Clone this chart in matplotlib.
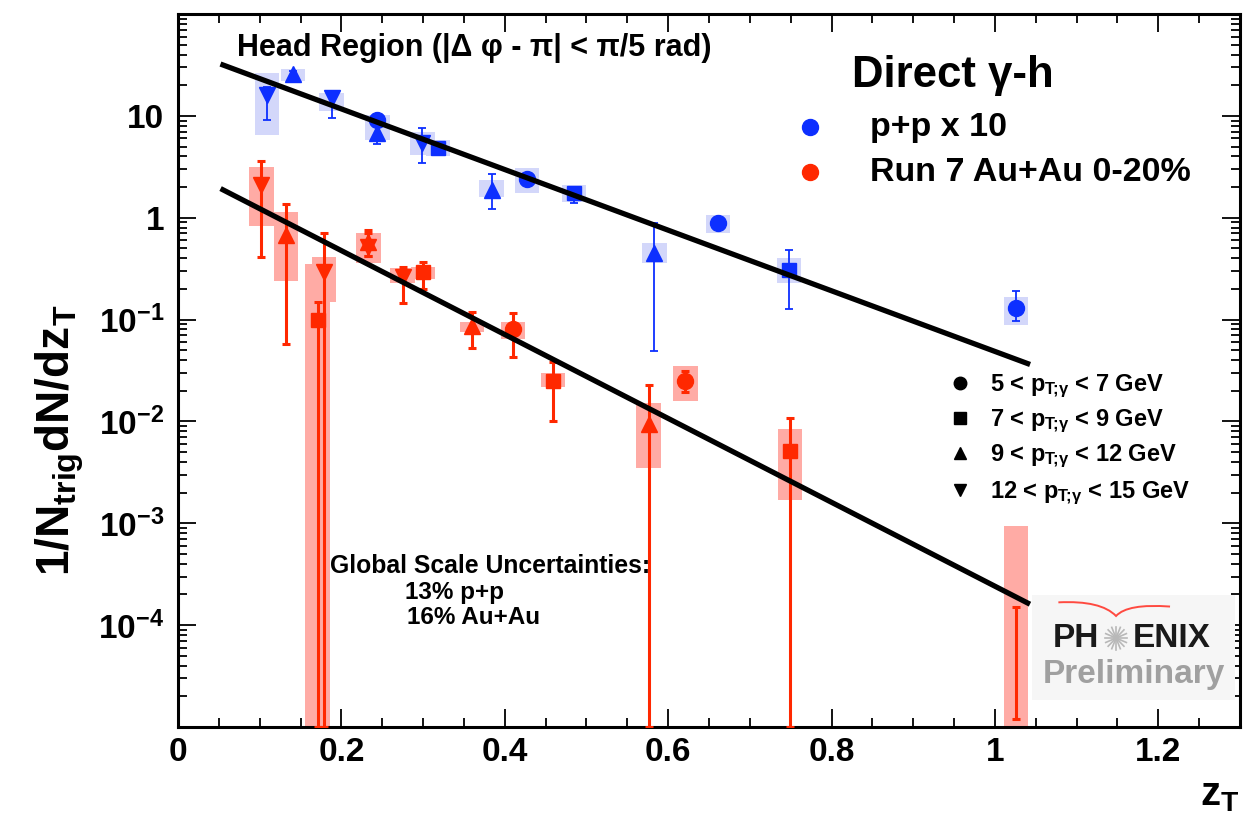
#!/usr/bin/env python3
"""Direct gamma-h away-side (head region) z_T distributions, p+p vs Au+Au."""

import numpy as np
import matplotlib
matplotlib.use("Agg")
import matplotlib.pyplot as plt
from matplotlib.path import Path
from matplotlib.patches import Rectangle, PathPatch
from matplotlib.ticker import MultipleLocator, LogLocator, NullFormatter

plt.rcParams["font.family"] = ["Liberation Sans", "DejaVu Sans"]
plt.rcParams["font.weight"] = "bold"
plt.rcParams["mathtext.fontset"] = "custom"
plt.rcParams["mathtext.rm"] = "Liberation Sans:bold"
plt.rcParams["mathtext.bf"] = "Liberation Sans:bold"
plt.rcParams["mathtext.it"] = "Liberation Sans:bold"

# ---- p+p (x10) -----------------------------------------------------------
# 5 < pT < 7
pp1_z = [0.244, 0.427, 0.661, 1.026]
pp1_y = [9.1, 2.41, 0.89, 0.13]
pp1_elo = [8.2, 2.25, 0.84, 0.096]
pp1_ehi = [10.0, 2.6, 0.94, 0.19]
pp1_slo = [6.1, 1.76, 0.71, 0.088]
pp1_shi = [10.2, 3.1, 1.07, 0.165]
# 7 < pT < 9
pp2_z = [0.318, 0.485, 0.748]
pp2_y = [4.86, 1.76, 0.31]
pp2_elo = [4.5, 1.4, 0.128]
pp2_ehi = [5.2, 1.9, 0.486]
pp2_slo = [4.0, 1.43, 0.23]
pp2_shi = [5.8, 2.1, 0.40]
# 9 < pT < 12
pp3_z = [0.141, 0.244, 0.384, 0.583]
pp3_y = [25.8, 6.8, 1.88, 0.45]
pp3_elo = [24.0, 5.3, 1.22, 0.049]
pp3_ehi = [27.5, 8.0, 2.7, 0.89]
pp3_slo = [22.0, 5.8, 1.6, 0.36]
pp3_shi = [29.0, 8.2, 2.36, 0.57]
# 12 < pT < 15
pp4_z = [0.109, 0.188, 0.299]
pp4_y = [16.1, 15.0, 5.4]
pp4_elo = [9.1, 9.5, 3.45]
pp4_ehi = [19.0, 17.6, 7.6]
pp4_slo = [6.5, 11.1, 4.1]
pp4_shi = [26.4, 16.8, 7.0]

# ---- Au+Au 0-20% ---------------------------------------------------------
# 5 < pT < 7  (last point: central value below the plotted range)
aa1_z = [0.410, 0.621, 1.026]
aa1_y = [0.080, 0.025, 5e-6]
aa1_elo = [0.043, 0.0194, 1.2e-5]
aa1_ehi = [0.115, 0.0316, 1.5e-4]
aa1_slo = [0.065, 0.0157, 1e-6]
aa1_shi = [0.094, 0.035, 9.5e-4]
# 7 < pT < 9
aa2_z = [0.171, 0.300, 0.459, 0.749]
aa2_y = [0.10, 0.29, 0.025, 0.0051]
aa2_elo = [1e-6, 0.20, 0.010, 1e-6]
aa2_ehi = [0.15, 0.37, 0.038, 0.0107]
aa2_slo = [1e-6, 0.25, 0.0216, 0.0017]
aa2_shi = [0.35, 0.33, 0.030, 0.0084]
# 9 < pT < 12
aa3_z = [0.132, 0.233, 0.360, 0.576]
aa3_y = [0.68, 0.58, 0.087, 0.0095]
aa3_elo = [0.057, 0.42, 0.052, 1e-6]
aa3_ehi = [1.37, 0.76, 0.12, 0.0226]
aa3_slo = [0.24, 0.36, 0.076, 0.0035]
aa3_shi = [1.14, 0.70, 0.094, 0.0151]
# 12 < pT < 15
aa4_z = [0.102, 0.179, 0.233, 0.275]
aa4_y = [2.1, 0.296, 0.52, 0.264]
aa4_elo = [0.415, 1e-6, 0.42, 0.147]
aa4_ehi = [3.6, 0.71, 0.70, 0.33]
aa4_slo = [0.82, 0.15, 0.40, 0.23]
aa4_shi = [3.16, 0.415, 0.66, 0.32]

# exponential fits, drawn as straight lines in log space between end points
fit_z = [0.055, 1.040]
fit_pp = [31.6, 0.037]
fit_aa = [1.88, 1.65e-4]

pt_bins = ["5 < p$_{T\\!;\\!\\gamma}$ < 7 GeV", "7 < p$_{T\\!;\\!\\gamma}$ < 9 GeV",
           "9 < p$_{T\\!;\\!\\gamma}$ < 12 GeV", "12 < p$_{T\\!;\\!\\gamma}$ < 15 GeV"]
y_decades = [1e-5, 1e-4, 1e-3, 1e-2, 1e-1, 1, 10, 100]
y_labels = ["", "$10^{-4}$", "$10^{-3}$", "$10^{-2}$", "$10^{-1}$", "1", "10", ""]

BLUE = "#0d2fff"
RED = "#ff2800"
BLUE_BOX = "#d3d7fa"
RED_BOX = "#ffaba5"
MARKERS = ["o", "s", "^", "v"]
MSIZE = [11.5, 10, 12, 12]
BOX_W = 0.03
YMIN, YMAX = 1e-5, 100

fig = plt.figure(figsize=(12.58, 8.13), dpi=100)
ax = fig.add_axes([178 / 1258, 86 / 813, 1062 / 1258, 713 / 813])
ax.set_yscale("log")
ax.set_xlim(0, 1.3)
ax.set_ylim(YMIN, YMAX)


def draw_series(z, y, elo, ehi, slo, shi, marker, ms, color, box, lw):
    z = np.asarray(z)
    slo_c = np.maximum(slo, YMIN)
    elo_c = np.maximum(elo, YMIN)
    ax.bar(z, np.asarray(shi) - slo_c, bottom=slo_c, width=BOX_W,
           color=box, lw=0, zorder=1)
    ax.vlines(z, elo_c, ehi, color=color, lw=lw, zorder=3)
    for ends in (ehi, elo_c):
        ax.plot(z, ends, ls="none", marker="_", ms=6, mew=lw, color=color, zorder=3)
    ax.plot(z, y, ls="none", marker=marker, ms=ms, color=color, mec=color, zorder=4)


pp_sets = [(pp1_z, pp1_y, pp1_elo, pp1_ehi, pp1_slo, pp1_shi),
           (pp2_z, pp2_y, pp2_elo, pp2_ehi, pp2_slo, pp2_shi),
           (pp3_z, pp3_y, pp3_elo, pp3_ehi, pp3_slo, pp3_shi),
           (pp4_z, pp4_y, pp4_elo, pp4_ehi, pp4_slo, pp4_shi)]
aa_sets = [(aa1_z, aa1_y, aa1_elo, aa1_ehi, aa1_slo, aa1_shi),
           (aa2_z, aa2_y, aa2_elo, aa2_ehi, aa2_slo, aa2_shi),
           (aa3_z, aa3_y, aa3_elo, aa3_ehi, aa3_slo, aa3_shi),
           (aa4_z, aa4_y, aa4_elo, aa4_ehi, aa4_slo, aa4_shi)]

for i, s in enumerate(aa_sets):
    draw_series(*s, MARKERS[i], MSIZE[i], RED, RED_BOX, 2.2)
for i, s in enumerate(pp_sets):
    draw_series(*s, MARKERS[i], MSIZE[i], BLUE, BLUE_BOX, 1.3)

ax.plot(fit_z, fit_pp, color="black", lw=3.8, zorder=5)
ax.plot(fit_z, fit_aa, color="black", lw=3.8, zorder=5)

# axes styling (inward ticks on all four sides)
for sp in ax.spines.values():
    sp.set_linewidth(2.2)
ax.xaxis.set_major_locator(MultipleLocator(0.2))
ax.xaxis.set_minor_locator(MultipleLocator(0.05))
ax.set_xticks([0, 0.2, 0.4, 0.6, 0.8, 1.0, 1.2], ["0", "0.2", "0.4", "0.6", "0.8", "1", "1.2"])
ax.set_yticks(y_decades, y_labels)
ax.yaxis.set_minor_locator(LogLocator(base=10, subs=np.arange(2, 10)))
ax.yaxis.set_minor_formatter(NullFormatter())
ax.tick_params(which="both", direction="in", top=True, right=True, width=1.3)
ax.tick_params(which="major", length=13, labelsize=24)
ax.tick_params(which="minor", length=6.5)
ax.tick_params(axis="x", pad=7)
ax.tick_params(axis="y", pad=10)

fig.text(60 / 1258, 1 - 440 / 813, "1/N$_{trig}$dN/dz$_{T}$", rotation=90,
         ha="center", va="center", fontsize=33)
fig.text(1220 / 1258, 1 - 795 / 813, "z$_{T}$", ha="center", va="center", fontsize=29)

# annotations
ax.text(0.0556, 0.952, "Head Region (|Δ φ - π| < π/5 rad)", transform=ax.transAxes,
        ha="left", va="center", fontsize=22)
ax.text(0.635, 0.914, "Direct γ-h", transform=ax.transAxes,
        ha="left", va="center", fontsize=31.5)
for fy, col, lab in [(0.8415, BLUE, "p+p x 10"), (0.778, RED, "Run 7 Au+Au 0-20%")]:
    ax.plot([0.595], [fy], transform=ax.transAxes, marker="o", ms=11.5,
            color=col, ls="none", clip_on=False)
    ax.text(0.652, fy, lab, transform=ax.transAxes, ha="left", va="center", fontsize=24.5)

for fy, mk, lab in zip([0.4825, 0.4334, 0.3843, 0.3324], MARKERS, pt_bins):
    ax.plot([0.736], [fy], transform=ax.transAxes, marker=mk, ms=9,
            color="black", ls="none")
    ax.text(0.765, fy - 0.012, lab, transform=ax.transAxes, ha="left",
            va="baseline", fontsize=17)

ax.text(0.143, 0.2258, "Global Scale Uncertainties:", transform=ax.transAxes,
        ha="left", va="center", fontsize=17.8)
ax.text(0.214, 0.1893, "13% p+p", transform=ax.transAxes,
        ha="left", va="center", fontsize=17.5)
ax.text(0.216, 0.1529, "16% Au+Au", transform=ax.transAxes,
        ha="left", va="center", fontsize=17.5)

# collaboration logo
logo = fig.add_axes([1032 / 1258, 1 - 700 / 813, 203 / 1258, 105 / 813])
logo.set_xlim(0, 1)
logo.set_ylim(0, 1)
logo.axis("off")
logo.add_patch(Rectangle((0, 0), 1, 1, facecolor="#f6f6f6", edgecolor="none"))
wing = Path([(0.13, 0.93), (0.34, 0.95), (0.414, 0.80),
             (0.47, 0.92), (0.68, 0.89)],
            [Path.MOVETO, Path.CURVE3, Path.CURVE3, Path.CURVE3, Path.CURVE3])
logo.add_patch(PathPatch(wing, facecolor="none", edgecolor="#ff4a40", lw=1.4))
for a in np.linspace(0, np.pi, 8, endpoint=False):
    dx, dy = 0.055 * np.cos(a), 0.11 * np.sin(a)
    logo.plot([0.414 - dx, 0.414 + dx], [0.59 - dy, 0.59 + dy], color="#b8b8b8", lw=1.2)
logo.text(0.33, 0.59, "PH", ha="right", va="center", fontsize=24, color="#1a1a1a")
logo.text(0.495, 0.59, "ENIX", ha="left", va="center", fontsize=24, color="#1a1a1a")
logo.text(0.50, 0.24, "Preliminary", ha="center", va="center", fontsize=24, color="#a0a0a0")

fig.savefig("out.png", dpi=100)
